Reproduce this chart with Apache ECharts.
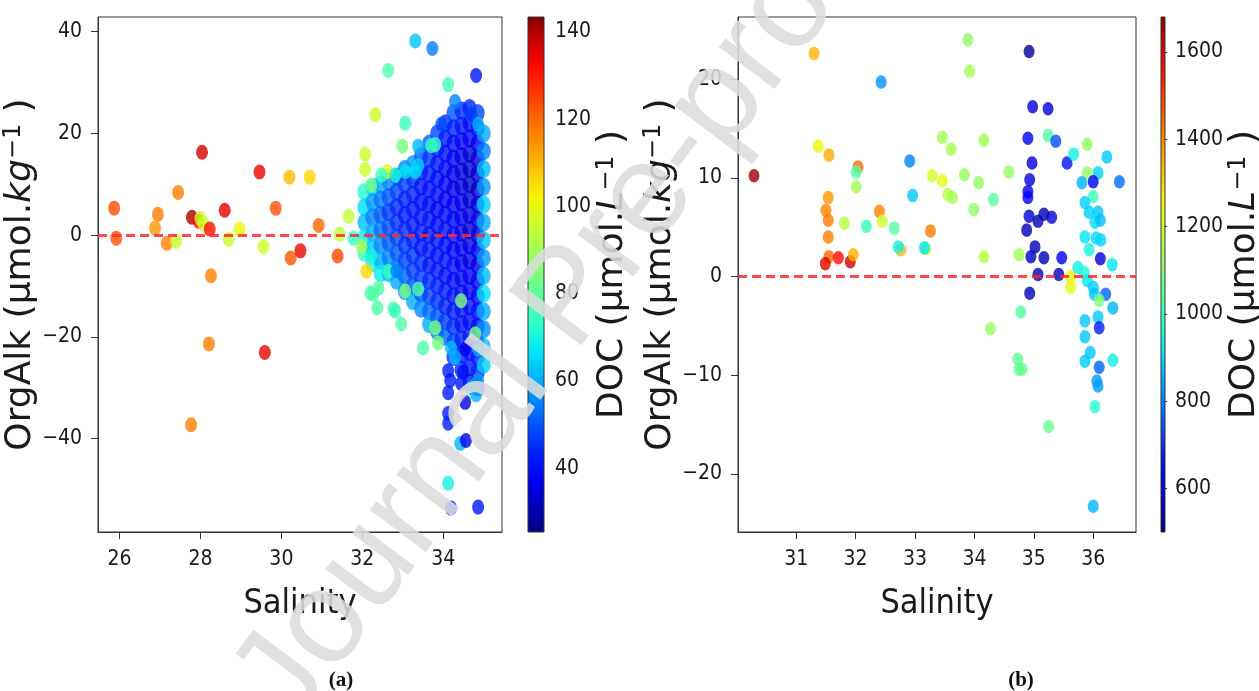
<!DOCTYPE html>
<html>
<head>
<meta charset="utf-8">
<title>OrgAlk vs Salinity</title>
<script src="https://cdn.jsdelivr.net/npm/echarts@6/dist/echarts.min.js"></script>
<style>
  html, body { margin: 0; padding: 0; background: #fff; }
  #chart { width: 1259px; height: 691px; }
</style>
</head>
<body>
<div id="chart"></div>
<script>
// [salinity, OrgAlk, DOC]

// (a) dense cloud, salinity 32-35
const aCloud = [
  [32.05,8.5,72],[32.05,5.5,66],[32.05,2.5,62],[32.05,-0.5,68],[32.05,-3.5,74],
  [32.25,9.5,64],[32.25,6.5,58],[32.25,3.5,55],[32.25,0.5,60],[32.25,-2.5,63],[32.25,-5.5,70],
  [32.45,10,60],[32.45,7,54],[32.45,4,51],[32.45,1,53],[32.45,-2,56],[32.45,-5,60],[32.45,-7.5,68],
  [32.65,10.5,56],[32.65,7.5,50],[32.65,4.5,47],[32.65,1.5,49],[32.65,-1.5,51],[32.65,-4.5,55],[32.65,-7.5,62],
  [32.85,11.5,52],[32.85,8.5,48],[32.85,5.5,45],[32.85,2.5,46],[32.85,-0.5,48],[32.85,-3.5,50],[32.85,-6.5,55],[32.85,-9,60],
  [33.05,13,55],[33.05,10,47],[33.05,7,44],[33.05,4,43],[33.05,1,45],[33.05,-2,46],[33.05,-5,48],[33.05,-8,52],[33.05,-11,58],
  [33.25,14,58],[33.25,11,46],[33.25,8,44],[33.25,5,42],[33.25,2,43],[33.25,-1,44],[33.25,-4,46],[33.25,-7,47],[33.25,-10,50],[33.25,-13,60],
  [33.45,15.5,50],[33.45,12.5,45],[33.45,9.5,42],[33.45,6.5,41],[33.45,3.5,42],[33.45,0.5,43],[33.45,-2.5,42],[33.45,-5.5,45],[33.45,-8.5,47],[33.45,-11.5,50],[33.45,-14.5,56],
  [33.65,18,52],[33.65,15,46],[33.65,12,43],[33.65,9,41],[33.65,6,40],[33.65,3,42],[33.65,0,41],[33.65,-3,43],[33.65,-6,42],[33.65,-9,45],[33.65,-12,48],[33.65,-15,52],[33.65,-17.5,60],
  [33.85,20,48],[33.85,17,44],[33.85,14,42],[33.85,11,40],[33.85,8,41],[33.85,5,39],[33.85,2,40],[33.85,-1,42],[33.85,-4,41],[33.85,-7,43],[33.85,-10,44],[33.85,-13,46],[33.85,-16,50],[33.85,-19,55],
  [34.05,22,46],[34.05,19,43],[34.05,16,41],[34.05,13,40],[34.05,10,39],[34.05,7,38],[34.05,4,40],[34.05,1,41],[34.05,-2,40],[34.05,-5,42],[34.05,-8,41],[34.05,-11,43],[34.05,-14,44],[34.05,-17,47],[34.05,-20,52],
  [34.25,24,50],[34.25,21,44],[34.25,18,40],[34.25,15,38],[34.25,12,37],[34.25,9,36],[34.25,6,38],[34.25,3,39],[34.25,0,40],[34.25,-3,38],[34.25,-6,41],[34.25,-9,40],[34.25,-12,42],[34.25,-15,43],[34.25,-18,45],[34.25,-21,48],[34.25,-24,46],
  [34.45,24.5,45],[34.45,21.5,42],[34.45,18.5,39],[34.45,15.5,36],[34.45,12.5,35],[34.45,9.5,34],[34.45,6.5,36],[34.45,3.5,37],[34.45,0.5,36],[34.45,-2.5,38],[34.45,-5.5,37],[34.45,-8.5,39],[34.45,-11.5,40],[34.45,-14.5,42],[34.45,-17.5,41],[34.45,-20.5,44],[34.45,-23.5,43],[34.45,-26.5,45],
  [34.65,25,44],[34.65,22,40],[34.65,19,37],[34.65,16,34],[34.65,13,33],[34.65,10,32],[34.65,7,34],[34.65,4,35],[34.65,1,34],[34.65,-2,36],[34.65,-5,35],[34.65,-8,37],[34.65,-11,38],[34.65,-14,40],[34.65,-17,39],[34.65,-20,42],[34.65,-23,41],[34.65,-26,43],[34.65,-29,40],
  [34.85,24,48],[34.85,21,42],[34.85,18,38],[34.85,15,35],[34.85,12,34],[34.85,9,33],[34.85,6,35],[34.85,3,36],[34.85,0,35],[34.85,-3,37],[34.85,-6,36],[34.85,-9,38],[34.85,-12,40],[34.85,-15,41],[34.85,-18,40],[34.85,-21,43],[34.85,-24,42],[34.85,-27,44],[34.85,-30,42],
  [35.0,20,60],[35.0,16.5,55],[35.0,13,62],[35.0,9.5,58],[35.0,6,64],[35.0,2.5,60],[35.0,-1,63],[35.0,-4.5,58],[35.0,-8,62],[35.0,-11.5,66],[35.0,-15,60],[35.0,-18.5,57],[35.0,-22,62],[35.0,-25.5,64]
];

// (a) lower tail under the cloud
const aTail = [
  [34.12,-26.7,43],[34.17,-28.6,43],[34.12,-31,43],[34.49,-27,40],[34.44,-29.2,42],
  [34.69,-30,61],[34.86,-28.6,58],[34.81,-31.4,61],[34.54,-32.9,35],[34.12,-35.1,43],
  [34.12,-37,44],[34.42,-41,61],[34.56,-40.4,37],[34.12,-48.8,70],[34.19,-53.7,43],
  [34.86,-53.5,43],[34.19,-22.2,61],[34.29,-24.1,61],[34.54,-22.4,37],[34.86,-22.4,61]
];

// (a) lighter points around the cloud edge
const aFringe = [
  [32.2,-11.4,78],[32.4,-10.4,78],[32.37,-14.3,78],[32.77,-14.5,78],[32.96,-17.5,78],
  [33.5,-22.2,78],[33.8,-18.2,84],[33.06,-11,84],[33.38,-10.6,78],[32.64,-7.1,75],
  [32.84,-7,55],[32.27,-11.6,78],[32.81,-14.9,75],[31.78,-0.6,73],[32.22,-4.1,70],
  [33.87,-21.2,84],[34.79,-19.4,84],[34.44,-12.9,84],
  [32.07,15.9,96],[32.07,12.9,96],[32.32,23.7,96],[32.64,32.4,78],[33.31,38.2,63],
  [33.73,36.7,55],[34.12,29.6,76],[34.81,31.4,41],[33.06,22.0,75],[32.99,17.5,84],
  [32.62,12.5,98],[33.38,17.5,61],[33.8,17.8,73],[34.29,26.3,55],[34.69,23.7,47],
  [34.86,21.8,61],[33.95,21.8,49],[33.06,12.5,67],[33.31,12.5,67],[32.22,9.8,84],
  [32.47,11.8,75],[32.81,11.8,70],[33.38,13.7,64],[33.7,17.6,75],[31.66,3.7,94]
];

// (a) low-salinity points
const aLow = [
  [25.87,5.3,123],[25.92,-0.6,123],[26.88,1.4,114],[26.95,4.1,117],[27.17,-1.6,117],
  [27.4,-1.2,96],[27.45,8.4,117],[27.79,3.5,140],[27.96,2.7,131],[28.0,3.3,96],
  [28.08,2.2,96],[28.04,16.3,137],[28.23,1.2,131],[28.26,-8.0,117],[28.6,4.9,135],
  [28.7,-0.8,96],[28.97,1.2,101],[29.46,12.4,134],[29.56,-2.3,96],[29.86,5.3,123],
  [30.2,11.4,110],[30.23,-4.5,122],[30.47,-3.1,134],[30.7,11.4,106],[30.92,1.9,120],
  [28.21,-21.4,117],[27.77,-37.3,117],[29.59,-23.1,134],[31.39,-4.1,124],[31.44,0.2,94],
  [31.98,-2.2,90],[32.1,-7.1,106]
];

// (b) all points
const bPoints = [
  [30.29,10.2,1656],[31.3,22.6,1350],[31.37,13.2,1255],[31.55,12.3,1361],[31.54,8.0,1385],
  [31.5,6.7,1409],[31.54,5.7,1420],[31.54,4.0,1420],[31.55,2.0,1444],[31.49,1.3,1597],
  [31.71,1.9,1562],[31.91,1.5,1621],[31.96,2.2,1350],[31.81,5.4,1173],[32.04,11.1,1444],
  [32.01,10.6,1031],[32.01,9.1,1149],[32.18,5.1,996],[32.43,19.7,819],[32.4,6.6,1409],
  [32.45,5.6,1208],[32.65,4.9,1031],[32.76,2.7,1350],[32.72,3.0,937],[32.91,11.7,795],
  [32.96,8.2,878],[33.18,2.8,1232],[33.16,2.9,913],[33.26,4.6,1420],[33.29,10.2,1208],
  [33.46,14.1,1149],[33.46,9.7,1232],[33.61,12.9,1149],[33.55,8.3,1173],[33.63,8.0,1149],
  [33.89,24.0,1114],[33.92,20.8,1149],[33.83,10.3,1125],[34.07,9.5,1125],[34.16,13.8,1149],
  [33.99,6.8,1114],[34.32,7.8,1031],[34.58,10.6,1125],[34.16,2.0,1173],[34.75,2.2,1149],
  [34.92,22.8,524],[34.98,17.2,594],[35.24,17.0,594],[34.9,14.0,618],[35.24,14.3,1031],
  [35.37,13.7,736],[34.97,11.5,594],[34.93,9.8,594],[34.9,8.6,618],[34.9,8.0,618],
  [34.92,6.1,583],[35.07,5.6,559],[35.17,6.3,559],[35.3,6.0,583],[34.88,4.7,559],
  [35.02,3.0,559],[34.95,2.0,559],[35.17,1.9,559],[35.07,0.2,559],[35.42,0.2,559],
  [35.47,1.9,618],[34.93,-1.7,559],[35.56,11.5,653],[35.67,12.4,937],[35.9,13.4,1125],
  [36.23,12.1,878],[36.44,9.6,771],[35.9,10.5,1125],[36.08,10.5,889],[36.0,9.6,618],
  [35.81,9.5,854],[36.0,8.1,996],[35.86,7.5,889],[35.93,6.5,889],[36.08,6.5,878],
  [36.03,5.5,900],[36.12,5.7,870],[35.86,4.0,913],[36.05,3.9,900],[36.13,3.7,890],
  [35.93,2.7,948],[36.12,1.8,583],[36.32,1.2,913],[35.62,0.0,1243],[35.62,-1.1,1243],
  [35.74,0.9,937],[35.85,0.4,960],[35.9,-0.4,920],[36.0,-1.1,890],[36.02,-1.8,870],
  [36.21,-1.8,760],[34.78,-3.6,1031],[34.27,-5.3,1125],[34.73,-8.4,1055],[34.75,-9.4,1055],
  [34.8,-9.4,1055],[35.25,-15.2,1066],[36.0,-23.3,854],[36.03,-13.2,972],[35.86,-8.6,878],
  [35.95,-7.7,878],[36.1,-9.2,760],[36.06,-10.6,830],[36.08,-11.1,830],[36.33,-8.5,937],
  [35.86,-4.5,878],[35.86,-6.1,878],[36.08,-4.1,878],[36.1,-5.2,677],[36.33,-3.2,854],
  [36.1,-2.4,1090]
];

// axis limits and ticks
const aSalRange = [25.47, 35.45];
const aOrgRange = [-58.4, 42.9];
const aDocRange = [25.4, 143.4];
const bSalRange = [30.02, 36.72];
const bOrgRange = [-25.9, 26.3];
const bDocRange = [500, 1680];

const aSalTicks = [26, 28, 30, 32, 34];
const aOrgTicks = [-40, -20, 0, 20, 40];
const aDocTicks = [40, 60, 80, 100, 120, 140];
const bSalTicks = [31, 32, 33, 34, 35, 36];
const bOrgTicks = [-20, -10, 0, 10, 20];
const bDocTicks = [600, 800, 1000, 1200, 1400, 1600];

// jet colormap, equal steps
const jet = ['#000080','#0000b9','#0000f3','#001aff','#004dff','#0080ff','#00b3ff',
  '#00e6f7','#29ffcd','#52ffa4','#7bff7b','#a4ff52','#cdff29','#f7f500','#ffc600',
  '#ff9700','#ff6800','#ff3900','#ff0a00','#d10000','#800000'];

const narrow = '"DejaVu Sans Condensed", "DejaVu Sans", sans-serif';
const dejavu = '"DejaVu Sans", sans-serif';
const ink = '#1a1a1a';
const ellipse = 'path://M1,0A1,1,0,1,1,-1,0A1,1,0,1,1,1,0Z';

// plain numbers with a real minus sign, no thousands separator
const tickText = v => String(v).replace('-', '\u2212');

function plotAxis(grid, range, ticks, name, gap, rich) {
  return {
    type: 'value', gridIndex: grid, min: range[0], max: range[1],
    name: name, nameLocation: 'middle', nameGap: gap,
    nameRotate: rich ? 90 : 0,
    nameTextStyle: rich
      ? { rich: rich }
      : { fontFamily: narrow, fontSize: 34, color: ink },
    axisLine: { show: true, onZero: false, lineStyle: { color: '#333', width: 1 } },
    axisTick: { show: true, length: 7, customValues: ticks, lineStyle: { color: '#333' } },
    axisLabel: { customValues: ticks, formatter: tickText, fontFamily: narrow, fontSize: 21,
                 color: ink, margin: rich ? 16 : 17 },
    splitLine: { show: false }
  };
}

function unitRich(size) {
  return {
    a: { fontFamily: dejavu, fontSize: size, color: ink },
    i: { fontFamily: dejavu, fontSize: size, fontStyle: 'italic', color: ink },
    s: { fontFamily: dejavu, fontSize: Math.round(size * 0.66), color: ink, verticalAlign: 'top' }
  };
}

function barAxis(grid, range, ticks, gap, margin) {
  return {
    type: 'value', gridIndex: grid, position: 'right', min: range[0], max: range[1],
    name: '{a|DOC (μmol.}{i|L}{s|−1}{a| )}', nameLocation: 'middle', nameGap: gap, nameRotate: 90,
    nameTextStyle: { rich: unitRich(36) },
    axisLine: { show: false },
    axisTick: { show: true, length: 6, customValues: ticks, lineStyle: { color: '#333' } },
    axisLabel: { customValues: ticks, formatter: tickText, fontFamily: narrow, fontSize: 21,
                 color: ink, margin: margin },
    splitLine: { show: false }
  };
}

function hiddenAxis(grid) {
  return { type: 'value', gridIndex: grid, min: 0, max: 1, show: false };
}

const jetGradient = new echarts.graphic.LinearGradient(0, 1, 0, 0,
  jet.map((c, i) => ({ offset: i / (jet.length - 1), color: c })));

function colorBar(axisIdx, range) {
  return {
    type: 'custom', xAxisIndex: axisIdx, yAxisIndex: axisIdx, silent: true,
    data: [[0, range[0], 1, range[1]]],
    encode: { x: [0, 2], y: [1, 3] },
    renderItem: function (params, api) {
      const p0 = api.coord([api.value(0), api.value(1)]);
      const p1 = api.coord([api.value(2), api.value(3)]);
      return {
        type: 'rect',
        shape: { x: p0[0], y: p1[1], width: p1[0] - p0[0], height: p0[1] - p1[1] },
        style: { fill: jetGradient, stroke: '#333', lineWidth: 1 }
      };
    }
  };
}

const zeroLine = {
  silent: true, symbol: 'none', label: { show: false },
  lineStyle: { color: 'rgba(255,40,40,0.85)', type: [9, 5], width: 3 },
  data: [{ yAxis: 0 }]
};

const yName = '{a|OrgAlk (μmol.}{i|kg}{s|−1}{a| )}';

const option = {
  animation: false,
  backgroundColor: '#fff',
  grid: [
    { left: 98, top: 17, width: 404, height: 515, show: true, borderColor: '#333', borderWidth: 1 },
    { left: 528, top: 17, width: 16, height: 515 },
    { left: 738, top: 17, width: 398, height: 515, show: true, borderColor: '#333', borderWidth: 1 },
    { left: 1161, top: 17, width: 16, height: 515 }
  ],
  xAxis: [
    plotAxis(0, aSalRange, aSalTicks, 'Salinity', 55),
    hiddenAxis(1),
    plotAxis(2, bSalRange, bSalTicks, 'Salinity', 55),
    hiddenAxis(3)
  ],
  yAxis: [
    plotAxis(0, aOrgRange, aOrgTicks, yName, 48, unitRich(36)),
    barAxis(1, aDocRange, aDocTicks, 46, 11),
    plotAxis(2, bOrgRange, bOrgTicks, yName, 49, unitRich(36)),
    barAxis(3, bDocRange, bDocTicks, 41, 10)
  ],
  visualMap: [
    { type: 'continuous', show: false, seriesIndex: [0, 1], dimension: 2,
      min: aDocRange[0], max: aDocRange[1], inRange: { color: jet } },
    { type: 'continuous', show: false, seriesIndex: 3, dimension: 2,
      min: bDocRange[0], max: bDocRange[1], inRange: { color: jet } }
  ],
  series: [
    {
      // dense cloud, drawn a bit larger so it reads as one mass
      type: 'scatter', xAxisIndex: 0, yAxisIndex: 0,
      data: aCloud,
      symbol: ellipse, symbolSize: [14, 18]
    },
    {
      type: 'scatter', xAxisIndex: 0, yAxisIndex: 0,
      data: aTail.concat(aFringe, aLow),
      symbol: ellipse, symbolSize: [12, 15],
      markLine: zeroLine
    },
    colorBar(1, aDocRange),
    {
      type: 'scatter', xAxisIndex: 2, yAxisIndex: 2,
      data: bPoints,
      symbol: ellipse, symbolSize: [11, 13.5],
      markLine: zeroLine
    },
    colorBar(3, bDocRange)
  ],
  graphic: [
    { type: 'text', x: 341, y: 681, z: 50, silent: true,
      style: { text: '(a)', fontFamily: '"Liberation Serif", serif', fontWeight: 'bold', fontSize: 21,
               fill: '#111', align: 'center', verticalAlign: 'middle' } },
    { type: 'text', x: 1021, y: 681, z: 50, silent: true,
      style: { text: '(b)', fontFamily: '"Liberation Serif", serif', fontWeight: 'bold', fontSize: 21,
               fill: '#111', align: 'center', verticalAlign: 'middle' } },
    // watermark
    { type: 'text', x: 570, y: 300, rotation: 0.925, z: 100, silent: true,
      style: { text: 'Journal Pre-proof', fontFamily: '"Liberation Sans", sans-serif', fontSize: 132,
               fill: 'rgba(220,220,220,0.88)', align: 'center', verticalAlign: 'middle' } }
  ]
};

const chart = echarts.init(document.getElementById('chart'));
chart.setOption(option);
</script>
</body>
</html>
